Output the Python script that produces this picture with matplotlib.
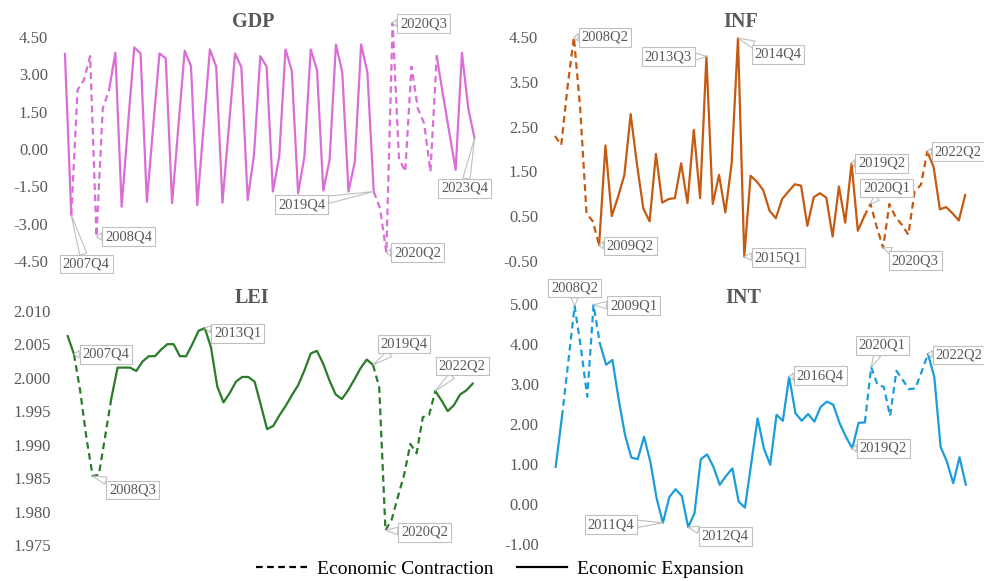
import matplotlib
matplotlib.use("Agg")
import matplotlib.pyplot as plt
from matplotlib.lines import Line2D
import numpy as np

plt.rcParams['font.family'] = ['Liberation Serif', 'DejaVu Serif']

# quarters 2007Q3 .. 2023Q4
quarters = [f"{y}Q{q}" for y in range(2007, 2024) for q in range(1, 5)][2:]

gdp = [3.82, -2.65, 2.37, 2.77, 3.73, -3.52, 1.63, 2.37, 3.87, -2.32,
       0.95, 4.08, 3.84, -2.12, 0.90, 3.84, 3.64, -2.18, 0.90, 3.95,
       3.33, -2.25, 0.88, 4.00, 3.31, -2.16, 0.84, 3.84, 3.28, -2.05,
       -0.24, 3.73, 3.31, -1.71, -0.31, 4.00, 3.14, -1.78, -0.31, 4.00,
       3.17, -1.67, -0.44, 4.20, 3.10, -1.71, -0.51, 4.20, 3.07, -1.71,
       -2.38, -4.16, 5.07, -0.37, -0.91, 3.31, 1.63, 1.03, -0.91, 3.73,
       2.16, 0.66, -0.84, 3.87, 1.63, 0.43]

inf = [2.29, 2.09, 3.40, 4.50, 2.90, 0.56, 0.38, -0.15, 2.08, 0.50,
       0.93, 1.42, 2.78, 1.65, 0.67, 0.38, 1.89, 0.80, 0.88, 0.90,
       1.68, 0.79, 2.43, 0.90, 4.07, 0.77, 1.42, 0.58, 1.68, 4.48,
       -0.41, 1.40, 1.27, 1.08, 0.62, 0.45, 0.88, 1.05, 1.21, 1.18,
       0.28, 0.92, 1.01, 0.91, 0.04, 1.16, 0.35, 1.68, 0.17, 0.49,
       0.77, 0.25, -0.21, 0.77, 0.47, 0.30, 0.08, 1.05, 1.20, 1.94,
       1.60, 0.65, 0.70, 0.56, 0.40, 0.97]

lei = [2.0062, 2.0035, 1.9980, 1.9910, 1.9853, 1.9855, 1.9912, 1.9969, 2.0015, 2.0015,
       2.0015, 2.0010, 2.0024, 2.0032, 2.0032, 2.0042, 2.0050, 2.0050, 2.0032, 2.0032,
       2.0050, 2.0070, 2.0074, 2.0045, 1.9987, 1.9963, 1.9977, 1.9994, 2.0001, 2.0001,
       1.9994, 1.9959, 1.9923, 1.9928, 1.9944, 1.9958, 1.9974, 1.9989, 2.0011, 2.0036,
       2.0040, 2.0021, 1.9996, 1.9975, 1.9968, 1.9981, 1.9997, 2.0014, 2.0027, 2.0019,
       1.9986, 1.9772, 1.9788, 1.9822, 1.9855, 1.9901, 1.9887, 1.9941, 1.9944, 1.9980,
       1.9966, 1.9950, 1.9959, 1.9975, 1.9981, 1.9991]

intr = [0.93, 2.18, 3.55, 4.95, 3.90, 2.68, 4.98, 4.02, 3.48, 3.60,
        2.60, 1.72, 1.16, 1.12, 1.68, 1.06, 0.14, -0.47, 0.17, 0.37,
        0.20, -0.58, -0.23, 1.12, 1.24, 0.93, 0.48, 0.70, 0.89, 0.06,
        -0.09, 1.02, 2.14, 1.39, 0.98, 2.23, 2.08, 3.18, 2.27, 2.08,
        2.25, 2.06, 2.43, 2.56, 2.48, 2.02, 1.68, 1.39, 2.03, 2.04,
        3.42, 2.98, 2.93, 2.20, 3.33, 3.10, 2.87, 2.89, 3.31, 3.75,
        3.18, 1.43, 1.06, 0.52, 1.17, 0.48]

contraction = [("2007Q4", "2009Q2"), ("2019Q4", "2022Q2")]
contraction_inf = [("2007Q3", "2009Q2"), ("2019Q4", "2022Q2")]

# callouts: (quarter, dx, dy) offsets in pixels
gdp_notes = [("2007Q4", 15, -49), ("2008Q4", 32, 0), ("2019Q4", -72, -13),
             ("2020Q2", 31, 0), ("2020Q3", 31, -1), ("2023Q4", -10, -50)]
inf_notes = [("2008Q2", 31, 0), ("2013Q3", -38, 0), ("2014Q4", 40, -16),
             ("2009Q2", 31, -1), ("2015Q1", 34, -1), ("2019Q2", 30, 0),
             ("2020Q1", 16, 16), ("2020Q3", 32, -13), ("2022Q2", 31, 0)]
lei_notes = [("2007Q4", 32, 0), ("2008Q3", 40, -14), ("2013Q1", 33, -5),
             ("2019Q4", 31, 21), ("2022Q2", 27, 25), ("2020Q2", 39, -2)]
int_notes = [("2008Q2", 0, 18), ("2009Q1", 40, -1), ("2011Q4", -52, -2),
             ("2012Q4", 37, -9), ("2016Q4", 31, 1), ("2019Q2", 31, 0),
             ("2020Q1", 11, 22), ("2022Q2", 31, -1)]

W, H = 984, 581
fig = plt.figure(figsize=(W / 100, H / 100), dpi=100)
GREY = '#595959'


def px_rect(x0, x1, ytop, ybot):
    return [x0 / W, 1 - ybot / H, (x1 - x0) / W, (ybot - ytop) / H]


def panel(rect, vals, color, periods, ylim, yticks, fmt, notes, title, title_xy):
    ax = fig.add_axes(rect)
    x = np.arange(len(vals))
    y = np.array(vals, dtype=float)
    con = np.zeros(len(y), bool)
    inner = np.zeros(len(y), bool)
    for a, b in periods:
        s, e = quarters.index(a), quarters.index(b)
        con[s:e + 1] = True
        inner[s + 1:e] = True
    ax.plot(x, np.where(inner, np.nan, y), color=color, lw=1.6, clip_on=False)
    ax.plot(x, np.where(con, y, np.nan), color=color, lw=1.6, ls=(0, (3, 2)),
            clip_on=False)
    ax.set_xlim(-1.5, 66.5)
    ax.set_ylim(*ylim)
    ax.set_yticks(yticks)
    ax.set_yticklabels([fmt % t for t in yticks])
    ax.set_xticks([])
    ax.tick_params(axis='y', length=0, pad=5.4, labelsize=12, labelcolor=GREY)
    for sp in ax.spines.values():
        sp.set_visible(False)
    for q, dx, dy in notes:
        i = quarters.index(q)
        ax.annotate(q, xy=(i, y[i]), xytext=(dx, dy), textcoords='offset pixels',
                    ha='center', va='center', fontsize=10.5, color=GREY, zorder=5,
                    annotation_clip=False,
                    bbox=dict(boxstyle='square,pad=0.2', fc='white', ec='#BFBFBF', lw=0.8),
                    arrowprops=dict(arrowstyle='wedge,tail_width=0.5', fc='white',
                                    ec='#BFBFBF', lw=0.8, shrinkA=0, shrinkB=0))
    fig.text(title_xy[0] / W, 1 - title_xy[1] / H, title, ha='center', va='center',
             fontsize=14.5, fontweight='bold', color=GREY)
    return ax


panel(px_rect(55.5, 484, 37, 261), gdp, '#DA6ED6', contraction, (-4.5, 4.5),
      [-4.5, -3, -1.5, 0, 1.5, 3, 4.5], '%.2f', gdp_notes, 'GDP', (253, 22))
panel(px_rect(545.5, 974.6, 37.3, 260.7), inf, '#C55A11', contraction_inf, (-0.5, 4.5),
      [-0.5, 0.5, 1.5, 2.5, 3.5, 4.5], '%.2f', inf_notes, 'INF', (741, 22))
panel(px_rect(58.4, 482, 310.7, 545), lei, '#2A7B2A', contraction, (1.975, 2.010),
      [1.975, 1.980, 1.985, 1.990, 1.995, 2.000, 2.005, 2.010], '%.3f', lei_notes,
      'LEI', (252, 298))
panel(px_rect(546.2, 975.3, 304, 544), intr, '#1B9DD9', contraction, (-1, 5),
      [-1, 0, 1, 2, 3, 4, 5], '%.2f', int_notes, 'INT', (743, 298))

handles = [Line2D([], [], color='black', lw=1.6, ls=(0, (3, 2))),
           Line2D([], [], color='black', lw=1.6)]
fig.legend(handles, ['Economic Contraction', 'Economic Expansion'], loc='center',
           bbox_to_anchor=(500 / W, 1 - 569 / H), ncol=2, frameon=False, fontsize=14,
           handlelength=2.6, handletextpad=0.5, columnspacing=1.2)

fig.savefig('out.png', dpi=100)
